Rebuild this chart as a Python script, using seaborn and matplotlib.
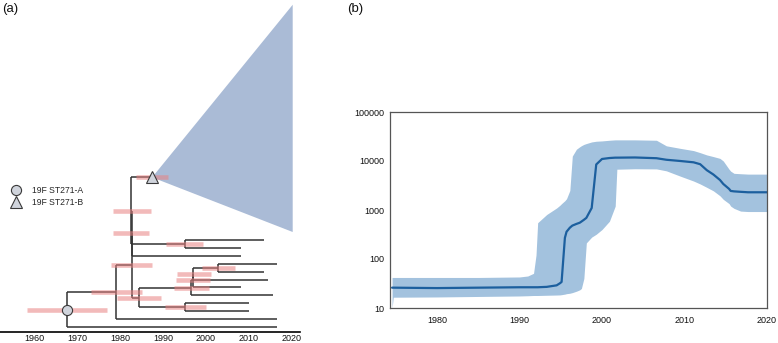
import numpy as np
import pandas as pd
import matplotlib
matplotlib.use("Agg")
import matplotlib.pyplot as plt
import seaborn as sns
from matplotlib.lines import Line2D
from matplotlib.ticker import FixedLocator, LogLocator, NullFormatter

sns.set_style("white")
plt.rcParams["font.family"] = ["Liberation Sans", "DejaVu Sans"]

# ---------------- panel (a): time-scaled phylogeny ----------------
node_names = ["root", "n1", "n2", "n3", "n4", "n5", "n6", "n7", "n8", "n9", "n10", "n11", "cladeB"]
node_parents = [None, "root", "n1", "n2", "n3", "n4", "n2", "n6", "n7", "n8", "n9", "n6", "n4"]
node_dates = [1967.7, 1979.1, 1982.8, 1982.7, 1982.6, 1995.1, 1984.4, 1996.6, 1996.9, 1997.1, 2002.9, 1995.1, 1987.5]
hpd_low = [1958.4, 1973.3, 1977.9, 1978.4, 1978.4, 1990.7, 1979.3, 1992.6, 1993.0, 1993.3, 1999.2, 1990.5, 1983.7]
hpd_high = [1977.0, 1985.1, 1987.4, 1986.8, 1987.2, 1999.3, 1989.5, 2000.8, 2001.0, 2001.2, 2006.8, 2000.0, 1991.2]

leaf_parents = ["root", "n1", "n11", "n11", "n7", "n8", "n9", "n10", "n10", "n3", "n5", "n5"]
leaf_dates = [2016.5, 2016.5, 2010.0, 2010.0, 2015.6, 2008.1, 2014.4, 2013.5, 2016.5, 2008.1, 2008.1, 2013.5]
leaf_slots = [0, 1, 2, 3, 4, 5, 6, 7, 8, 9, 10, 11]

clade_name = "cladeB"
clade_slot = 18.9
clade_span = [12.0, 40.7]
clade_edge = 2020.2

legend_labels = ["19F ST271-A", "19F ST271-B"]

# ---------------- panel (b): Bayesian skyline ----------------
sky_years = [1974.55, 1974.7, 1980, 1985, 1990, 1991, 1991.7, 1992.0, 1992.2, 1993.3, 1994.5, 1994.9,
             1995.1, 1995.5, 1995.7, 1996.1, 1996.4, 1996.9, 1997.3, 1997.5, 1997.8, 1998.1, 1998.75,
             1999.3, 2000.0, 2000.9, 2001.6, 2001.8, 2004.0, 2006.6, 2007.8, 2009.5, 2011.1, 2011.9,
             2012.7, 2013.5, 2014.3, 2014.7, 2015.4, 2015.6, 2016.0, 2016.8, 2017.7, 2020.0]
sky_median = [26, 26, 25.5, 26, 26.5, 26.5, 26.5, 26.5, 26.5, 27, 29, 32,
              34, 270, 360, 435, 480, 520, 550, 580, 630, 690, 1100,
              8500, 11000, 11500, 11700, 11700, 11800, 11400, 10600, 10000, 9400, 8600,
              6500, 5300, 4100, 3400, 2700, 2450, 2400, 2350, 2300, 2300]
sky_upper = [42, 42, 42, 42, 43, 45, 51, 120, 550, 810, 1100, 1250,
             1350, 1550, 1700, 2500, 12600, 17400, 19500, 20500, 21800, 22700, 24500,
             25300, 25700, 26500, 27000, 27000, 27000, 26500, 20400, 18100, 16300, 14800,
             13300, 12300, 11300, 10000, 6800, 6200, 5600, 5500, 5400, 5400]
sky_lower = [10, 16.6, 16.8, 17.2, 17.6, 17.8, 18, 18, 18, 18.2, 18.4, 18.5,
             18.7, 19.2, 19.6, 20, 20.6, 22, 23.5, 25, 40, 213, 280,
             320, 400, 590, 1200, 6800, 6950, 6900, 6300, 4900, 3900, 3400,
             2900, 2460, 1950, 1650, 1350, 1200, 1080, 950, 930, 930]

year_ticks_a = [1960, 1970, 1980, 1990, 2000, 2010, 2020]
year_ticks_b = [1980, 1990, 2000, 2010, 2020]
ne_ticks = [10, 100, 1000, 10000, 100000]

# ---------------- figure ----------------
W, H = 778, 343
fig = plt.figure(figsize=(W / 100, H / 100), dpi=100)

axA = fig.add_axes([0 / W, 11 / H, 300 / W, (H - 11) / H])
axB = fig.add_axes([390 / W, (H - 308) / H, 377 / W, 196 / H])

# ---- tree layout ----
date_of = dict(zip(node_names, node_dates))
ypos = {}
children = {n: [] for n in node_names}
for i, (p, d, s) in enumerate(zip(leaf_parents, leaf_dates, leaf_slots)):
    name = f"leaf{i}"
    ypos[name] = s
    children[p].append(name)
ypos[clade_name] = clade_slot
for n, p in zip(node_names, node_parents):
    if p is not None:
        children[p].append(n)


def layout(n):
    if n in ypos:
        return ypos[n]
    ys = [layout(c) for c in children[n]]
    ypos[n] = (min(ys) + max(ys)) / 2
    return ypos[n]


layout("root")

line_col = "#333333"
lw_tree = 1.1

# collapsed clade triangle
axA.fill([date_of[clade_name], clade_edge, clade_edge],
         [ypos[clade_name], clade_span[1], clade_span[0]],
         color="#aabbd6", lw=0, zorder=1)

# horizontal branches
h_y, h_x0, h_x1 = [], [], []
for n, p in zip(node_names, node_parents):
    if p is not None:
        h_y.append(ypos[n]); h_x0.append(date_of[p]); h_x1.append(date_of[n])
for i, (p, d) in enumerate(zip(leaf_parents, leaf_dates)):
    h_y.append(ypos[f"leaf{i}"]); h_x0.append(date_of[p]); h_x1.append(d)
axA.hlines(h_y, h_x0, h_x1, color=line_col, lw=lw_tree, zorder=2)

# vertical connectors
v_x, v_y0, v_y1 = [], [], []
for n in node_names:
    if children[n]:
        cy = [ypos[c] for c in children[n]]
        v_x.append(date_of[n]); v_y0.append(min(cy)); v_y1.append(max(cy))
axA.vlines(v_x, v_y0, v_y1, color=line_col, lw=lw_tree, zorder=2)

# node age 95% HPD bars
axA.hlines([ypos[n] for n in node_names], hpd_low, hpd_high,
           color="#e98282", alpha=0.55, lw=3.3, zorder=3, capstyle="butt")

mk_face = "#d0d4dc"
mk_edge = "#3a3a3a"
axA.plot([date_of["root"]], [ypos["root"]], marker="o", ms=7.3, mfc=mk_face,
         mec=mk_edge, mew=0.8, ls="none", zorder=5)
axA.plot([date_of[clade_name]], [ypos[clade_name]], marker="^", ms=9, mfc=mk_face,
         mec=mk_edge, mew=0.8, ls="none", zorder=5)

axA.set_xlim(1952.1, 2021.9)
axA.set_ylim(-0.63, 41.3)
for s in ["left", "right", "top"]:
    axA.spines[s].set_visible(False)
axA.spines["bottom"].set_color("black")
axA.spines["bottom"].set_linewidth(1.2)
axA.set_yticks([])
axA.set_xticks(year_ticks_a)
axA.set_xticklabels([str(t) for t in year_ticks_a])
axA.tick_params(axis="x", length=0, pad=1.5, labelsize=6.5, colors="#111111")

handles = [Line2D([], [], marker="o", ms=7.3, mfc=mk_face, mec=mk_edge, mew=0.8, ls="none"),
           Line2D([], [], marker="^", ms=9, mfc=mk_face, mec=mk_edge, mew=0.8, ls="none")]
leg = axA.legend(handles, legend_labels, loc="center left", frameon=False, fontsize=6.2,
                 bbox_to_anchor=(12 / W, (H - 196.5) / H), bbox_transform=fig.transFigure,
                 handlelength=1.0, handletextpad=1.35, labelspacing=0.3, borderpad=0, borderaxespad=0)

# ---- skyline ----
df = pd.DataFrame({"year": sky_years, "median": sky_median})
axB.fill_between(sky_years, sky_lower, sky_upper, color="#a3c2de", lw=0, zorder=1)
sns.lineplot(data=df, x="year", y="median", ax=axB, color="#1c5f9e", lw=1.6, zorder=2)
axB.set_yscale("log")
axB.set_ylim(10, 100000)
axB.set_xlim(1974.3, 2020)
axB.set_xlabel("")
axB.set_ylabel("")
axB.yaxis.set_major_locator(FixedLocator(ne_ticks))
axB.set_yticklabels([str(t) for t in ne_ticks])
axB.yaxis.set_minor_locator(LogLocator(base=10, subs=np.arange(2, 10)))
axB.yaxis.set_minor_formatter(NullFormatter())
axB.set_xticks(year_ticks_b)
axB.set_xticklabels([str(t) for t in year_ticks_b])
axB.set_xticks([1975, 1985, 1995, 2005, 2015], minor=True)
for s in axB.spines.values():
    s.set_color("#555555")
    s.set_linewidth(0.9)
axB.tick_params(axis="both", which="major", direction="out", length=2.5, width=0.8,
                color="#333333", labelsize=6.5, pad=1.5, labelcolor="#111111")
axB.tick_params(axis="both", which="minor", direction="out", length=1.5, width=0.6, color="#333333")
axB.tick_params(axis="x", which="major", pad=3)

fig.text(2 / W, 1 - 3 / H, "(a)", fontsize=9.5, va="top", ha="left", color="#111111")
fig.text(347 / W, 1 - 3 / H, "(b)", fontsize=9.5, va="top", ha="left", color="#111111")

fig.savefig("out.png", dpi=100)
